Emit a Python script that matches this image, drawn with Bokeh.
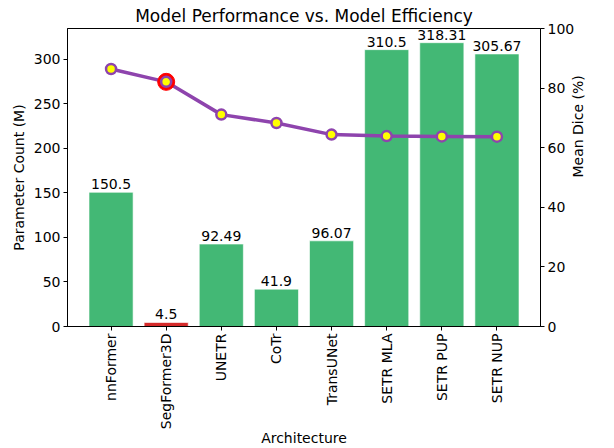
from bokeh.plotting import figure
from bokeh.models import (ColumnDataSource, FactorRange, Range1d, LinearAxis,
                          FixedTicker, LabelSet, Spacer)
from bokeh.layouts import row
from bokeh.embed import file_html
from bokeh.resources import INLINE
from bokeh.core.properties import value
import math

architectures = ["nnFormer", "SegFormer3D", "UNETR", "CoTr", "TransUNet",
                 "SETR MLA", "SETR PUP", "SETR NUP"]
param_counts = [150.5, 4.5, 92.49, 41.9, 96.07, 310.5, 318.31, 305.67]
param_labels = ["150.5", "4.5", "92.49", "41.9", "96.07", "310.5", "318.31", "305.67"]
mean_dice = [86.4, 82.1, 71.1, 68.3, 64.4, 63.9, 63.8, 63.7]
highlight = "SegFormer3D"

GREEN = "#43b875"
RED = "#d42a2a"
PURPLE = "#8e44ad"
FONT = "DejaVu Sans"

colors = [RED if a == highlight else GREEN for a in architectures]
src = ColumnDataSource(dict(x=architectures, top=param_counts, label=param_labels,
                            dice=mean_dice, color=colors))

p = figure(frame_width=473, frame_height=298, output_backend="svg",
           toolbar_location=None,
           x_range=FactorRange(factors=architectures, range_padding=0.0725,
                               range_padding_units="percent"),
           y_range=Range1d(0, max(param_counts) * 1.05),
           title="Model Performance vs. Model Efficiency",
           min_border_left=10, min_border_right=10, min_border_top=20,
           min_border_bottom=10)
p.extra_y_ranges = {"dice": Range1d(0, 100)}

p.title.align = "center"
p.title.text_font = FONT
p.title.text_font_size = "17px"
p.title.text_font_style = "normal"
p.title.text_color = "black"
p.title.offset = 0
p.title.standoff = 6

p.vbar(x="x", top="top", width=0.8, source=src, fill_color="color",
       line_color="white", line_width=0.6)

labels = LabelSet(x="x", y="top", text="label", source=src, text_align="center",
                  text_baseline="bottom", text_font=value(FONT),
                  text_font_size="14px", text_color="black", y_offset=3)
p.add_layout(labels)

# dice line on secondary axis
p.line(x="x", y="dice", source=src, y_range_name="dice", line_color=PURPLE,
       line_width=3.5)
hi = ColumnDataSource(dict(x=[highlight],
                           y=[mean_dice[architectures.index(highlight)]]))
p.scatter(x="x", y="y", source=hi, y_range_name="dice", size=17,
          fill_color="red", line_color="red")
p.scatter(x="x", y="dice", source=src, y_range_name="dice", size=10,
          fill_color="yellow", line_color=PURPLE, line_width=2.5)

right = LinearAxis(y_range_name="dice", axis_label="Mean Dice (%)",
                   ticker=FixedTicker(ticks=[0, 20, 40, 60, 80, 100]))
p.add_layout(right, "right")
right.axis_label_orientation = math.pi / 2

p.yaxis[0].ticker = FixedTicker(ticks=[0, 50, 100, 150, 200, 250, 300])
p.yaxis[0].axis_label = "Parameter Count (M)"
p.xaxis.axis_label = "Architecture"
p.xaxis.major_label_orientation = math.pi / 2

for ax in p.xaxis + p.yaxis:
    ax.major_label_text_font = FONT
    ax.major_label_text_font_size = "14px"
    ax.major_label_text_color = "black"
    ax.axis_label_text_font = FONT
    ax.axis_label_text_font_size = "14px"
    ax.axis_label_text_font_style = "normal"
    ax.axis_label_text_color = "black"
    ax.minor_tick_line_color = None
    ax.major_tick_out = 4
    ax.major_tick_in = 0
    ax.axis_line_color = "black"
    ax.major_tick_line_color = "black"
    ax.major_label_standoff = 3
    ax.axis_label_standoff = 4

p.yaxis[0].axis_label_standoff = 4
right.axis_label_standoff = 1
p.xaxis[0].axis_label_standoff = -2

p.xgrid.grid_line_color = None
p.ygrid.grid_line_color = None
p.outline_line_color = "black"
p.outline_line_alpha = 1
p.background_fill_color = "white"
p.border_fill_color = "white"

layout = row(Spacer(width=7, height=10), p, spacing=0)

open("out.html", "w").write(file_html(layout, INLINE))
